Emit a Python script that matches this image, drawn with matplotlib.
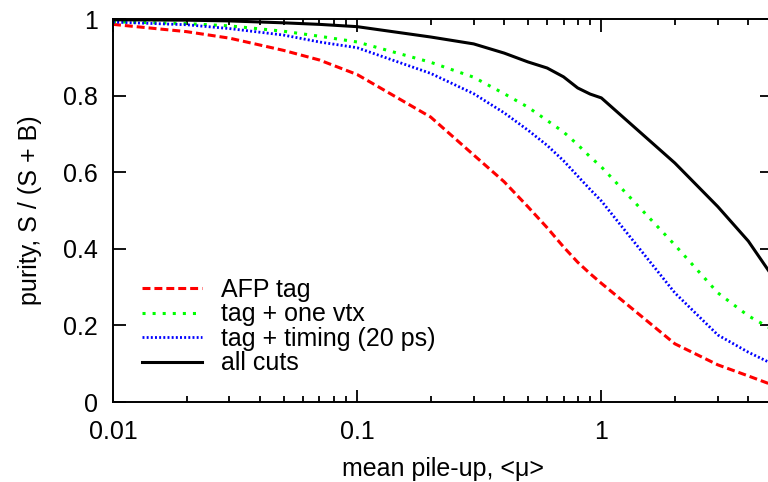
import matplotlib
matplotlib.use('Agg')
import matplotlib.pyplot as plt
from matplotlib.ticker import LogLocator, NullFormatter

plt.rcParams['font.family'] = ['Liberation Sans', 'DejaVu Sans']

# mean pile-up values
mu = [0.01, 0.02, 0.03, 0.05, 0.07, 0.1, 0.2, 0.3, 0.4, 0.5, 0.6, 0.7, 0.8, 0.9, 1, 2, 3, 4, 5]

# purity curves
afp_tag = [0.986, 0.967, 0.950, 0.918, 0.893, 0.855, 0.744, 0.645, 0.575, 0.510, 0.455, 0.405,
           0.365, 0.335, 0.310, 0.152, 0.097, 0.068, 0.045]
one_vtx = [0.993, 0.988, 0.982, 0.968, 0.955, 0.940, 0.887, 0.848, 0.805, 0.770, 0.735, 0.705,
           0.672, 0.640, 0.614, 0.410, 0.285, 0.225, 0.190]
timing = [0.992, 0.985, 0.975, 0.958, 0.940, 0.925, 0.858, 0.805, 0.755, 0.710, 0.670, 0.630,
          0.590, 0.555, 0.525, 0.285, 0.175, 0.130, 0.100]
all_cuts = [0.998, 0.997, 0.995, 0.990, 0.986, 0.980, 0.953, 0.935, 0.911, 0.888, 0.872, 0.849,
            0.820, 0.804, 0.794, 0.624, 0.510, 0.420, 0.330]

labels = ['AFP tag', 'tag + one vtx', 'tag + timing (20 ps)', 'all cuts']
xticks = [0.01, 0.1, 1]
xticklabels = ['0.01', '0.1', '1']
yticks = [0, 0.2, 0.4, 0.6, 0.8, 1]
yticklabels = ['0', '0.2', '0.4', '0.6', '0.8', '1']

fs = 18

fig = plt.figure(figsize=(7.68, 4.82), dpi=100)
# axes runs slightly past the right edge of the picture, like the original crop
ax = fig.add_axes([113 / 768, 1 - 402 / 482, (772 - 113) / 768, (402 - 19) / 482])

lw = 2.2
l1, = ax.plot(mu, afp_tag, color='#ff0000', lw=lw, label=labels[0])
l1.set_dashes((2.6, 1.3))
l2, = ax.plot(mu, one_vtx, color='#00ff00', lw=lw, label=labels[1])
l2.set_dashes((1.0, 2.3))
l3, = ax.plot(mu, timing, color='#0000ff', lw=2.0, label=labels[2])
l3.set_dashes((0.7, 0.8))
ax.plot(mu, all_cuts, color='black', lw=lw, label=labels[3])

ax.set_xscale('log')
ax.set_xlim(0.01, 5)
ax.set_ylim(0, 1)
ax.set_xticks(xticks, labels=xticklabels)
ax.xaxis.set_minor_locator(LogLocator(base=10, subs=range(2, 10)))
ax.xaxis.set_minor_formatter(NullFormatter())
ax.set_yticks(yticks, labels=yticklabels)

ax.tick_params(which='both', direction='in', top=True, right=True, width=1.3, labelsize=fs)
ax.tick_params(which='major', length=9)
ax.tick_params(which='minor', length=4)
ax.tick_params(axis='x', which='major', pad=13)
ax.tick_params(axis='y', which='major', pad=11)
for sp in ax.spines.values():
    sp.set_linewidth(1.4)

ax.set_xlabel('mean pile-up, <\u03bc>', fontsize=fs, labelpad=9)
ax.set_ylabel('purity, S / (S + B)', fontsize=fs, labelpad=15)

ax.legend(loc='upper left', bbox_to_anchor=(142 / 768, 1 - 278 / 482), bbox_transform=fig.transFigure,
          frameon=False, fontsize=fs, handlelength=2.4, handletextpad=0.75, labelspacing=0.02,
          borderpad=0, borderaxespad=0)

fig.savefig('out.png', dpi=100)
